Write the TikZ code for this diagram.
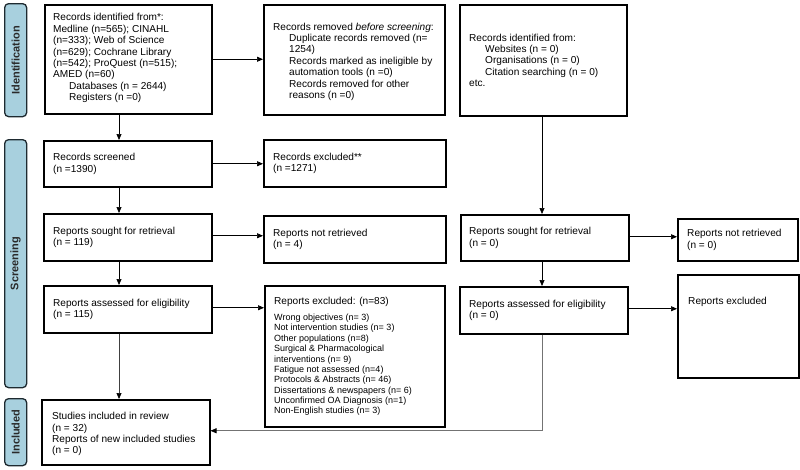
\documentclass[tikz,border=0pt]{standalone}
\usepackage{fontspec}
\setmainfont{Liberation Sans}
\usetikzlibrary{arrows.meta,calc}
\definecolor{sidefill}{HTML}{A8D0DE}
\definecolor{sideline}{HTML}{1E2A30}
\definecolor{sidetext}{HTML}{2A2A2A}
\begin{document}
\begin{tikzpicture}[x=1pt,y=-1pt,
  box/.style={draw=black, line width=1.5pt, anchor=north west, inner sep=0pt},
  txt/.style={anchor=west, align=left, inner sep=0pt, font=\fontsize{10.1}{11.4}\selectfont},
  side/.style={draw=sideline, fill=sidefill, line width=1.3pt, rounded corners=4pt, anchor=north west, inner sep=0pt, minimum width=22pt},
  sidelabel/.style={rotate=90, font=\fontsize{11}{12}\selectfont\bfseries, text=sidetext, inner sep=0pt},
  arr/.style={line width=0.7pt, -{Triangle[length=6pt,width=5pt,color=black]}},
  ln/.style={line width=0.7pt}
]
\useasboundingbox (0,0) rectangle (800,469);
\coordinate (colL) at (119,0);
\coordinate (colR) at (542,0);
\newcommand{\ind}{\hspace*{16pt}}
\newcommand{\sm}{\fontsize{9}{10.35}\selectfont}

% side bars
\node[side, minimum height=113pt] (SI) at (4,3) {};
\node[sidelabel] at (SI.center) {Identification};
\node[side, minimum height=248pt] (SS) at (4,139) {};
\node[sidelabel] at (SS.center) {Screening};
\node[side, minimum height=67pt] (SN) at (4,398) {};
\node[sidelabel] at (SN.center) {Included};

% boxes
\node[box, minimum width=167pt, minimum height=109pt] (A) at (44,4) {};
\node[txt] at ([xshift=9pt,yshift=1pt]A.west) {Records identified from*:\\Medline (n=565); CINAHL\\(n=333); Web of Science\\(n=629); Cochrane Library\\(n=542); ProQuest (n=515);\\AMED (n=60)\\\ind Databases (n = 2644)\\\ind Registers (n =0)};

\node[box, minimum width=181pt, minimum height=110pt] (B) at (263,4) {};
\node[txt] at ([xshift=10pt,yshift=-2pt]B.west) {Records removed \emph{before screening}:\\\ind Duplicate records removed (n=\\\ind 1254)\\\ind Records marked as ineligible by\\\ind automation tools (n =0)\\\ind Records removed for other\\\ind reasons (n =0)};

\node[box, minimum width=167pt, minimum height=111pt] (C) at (459,4) {};
\node[txt] at ([xshift=10pt]C.west) {Records identified from:\\\ind Websites (n = 0)\\\ind Organisations (n = 0)\\\ind Citation searching (n = 0)\\etc.};

\node[box, minimum width=168pt, minimum height=46pt] (D) at (43,140) {};
\node[txt] at ([xshift=10pt]D.west) {Records screened\\(n =1390)};

\node[box, minimum width=182pt, minimum height=47pt] (E) at (263,139) {};
\node[txt] at ([xshift=10pt]E.west) {Records excluded**\\(n =1271)};

\node[box, minimum width=168pt, minimum height=47pt] (F) at (43,213) {};
\node[txt] at ([xshift=10pt]F.west) {Reports sought for retrieval\\(n = 119)};

\node[box, minimum width=182pt, minimum height=47pt] (G) at (263,215) {};
\node[txt] at ([xshift=10pt]G.west) {Reports not retrieved\\(n = 4)};

\node[box, minimum width=168pt, minimum height=46pt] (H) at (460,214) {};
\node[txt] at ([xshift=9pt]H.west) {Reports sought for retrieval\\(n = 0)};

\node[box, minimum width=120pt, minimum height=42pt] (I) at (677,218) {};
\node[txt] at ([xshift=10pt]I.west) {Reports not retrieved\\(n = 0)};

\node[box, minimum width=168pt, minimum height=47pt] (J) at (43,285) {};
\node[txt] at ([xshift=10pt]J.west) {Reports assessed for eligibility\\(n = 115)};

\node[box, minimum width=180pt, minimum height=141pt] (K) at (264,285) {};
\node[txt] at ([xshift=10pt]K.west) {Reports excluded: (n=83)\\[5pt]
{\sm Wrong objectives (n= 3)}\\[-1.05pt]
{\sm Not intervention studies (n= 3)}\\[-1.05pt]
{\sm Other populations (n=8)}\\[-1.05pt]
{\sm Surgical \& Pharmacological}\\[-1.05pt]
{\sm interventions (n= 9)}\\[-1.05pt]
{\sm Fatigue not assessed (n=4)}\\[-1.05pt]
{\sm Protocols \& Abstracts (n= 46)}\\[-1.05pt]
{\sm Dissertations \& newspapers (n= 6)}\\[-1.05pt]
{\sm Unconfirmed OA Diagnosis (n=1)}\\[-1.05pt]
{\sm Non-English studies (n= 3)}};

\node[box, minimum width=168pt, minimum height=47pt] (L) at (459,286) {};
\node[txt] at ([xshift=10pt]L.west) {Reports assessed for eligibility\\(n = 0)};

\node[box, minimum width=121pt, minimum height=103pt] (M) at (677,274) {};
\node[txt, anchor=north west] at ([xshift=11pt,yshift=-23pt]M.north west) {Reports excluded};

\node[box, minimum width=168pt, minimum height=65pt] (N) at (41,399) {};
\node[txt] at ([xshift=11pt,yshift=-2pt]N.west) {Studies included in review\\(n = 32)\\Reports of new included studies\\(n = 0)};

% connectors
\draw[arr] (A.east) -- (A.east -| B.west);
\draw[arr] (A.south -| colL) -- (D.north -| colL);
\draw[arr] (C.south -| colR) -- (H.north -| colR);
\draw[arr] (D.east) -- (D.east -| E.west);
\draw[arr] (D.south -| colL) -- (F.north -| colL);
\draw[arr] ([yshift=1.5pt]F.east) -- ([yshift=1.5pt]F.east -| G.west);
\draw[arr] (F.south -| colL) -- (J.north -| colL);
\draw[arr] ([yshift=1pt]H.east) -- ([yshift=1pt]H.east -| I.west);
\draw[arr] (H.south -| colR) -- (L.north -| colR);
\draw[arr] ([yshift=1.5pt]J.east) -- ([yshift=1.5pt]J.east -| K.west);
\draw[arr] ([yshift=1.5pt]L.east) -- ([yshift=1.5pt]L.east -| M.west);
\draw[arr, draw=black!75] (J.south -| colL) -- (N.north -| colL);
\coordinate (nin) at ([yshift=1.5pt]N.east);
\draw[arr, draw=black!55] (L.south -| colR) |- (nin);
\end{tikzpicture}
\end{document}
